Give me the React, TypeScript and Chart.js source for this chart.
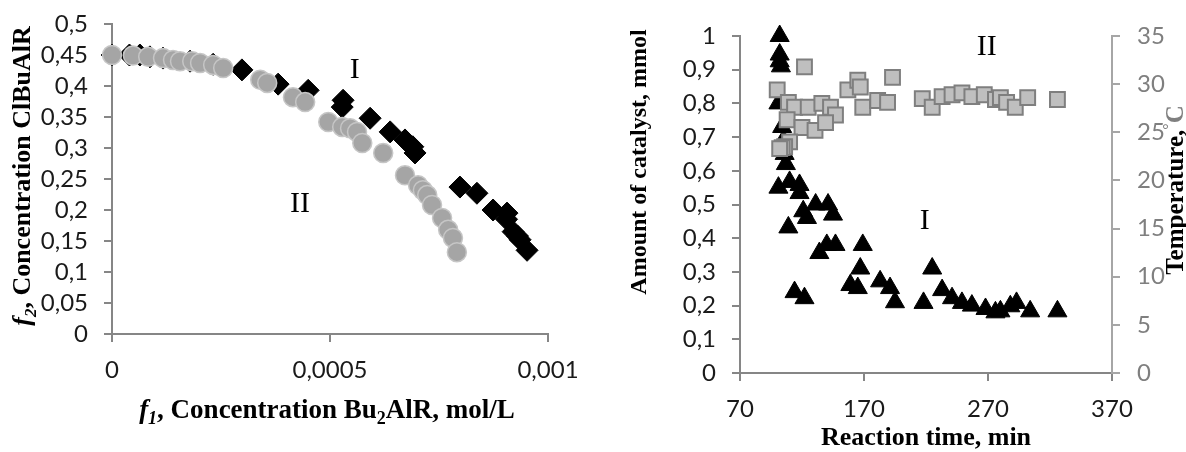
import { useEffect, useRef } from "react";
import { Chart, registerables } from "chart.js";

Chart.register(...registerables);

// ---- Left panel: f1 (Bu2AlR, mol/L) against f2 (ClBuAlR) ----
const f1SeriesI = [
  0, 0.00004, 0.000064, 0.000087, 0.000117, 0.000179, 0.000232, 0.000298, 0.000381, 0.00045,
  0.00053, 0.000528, 0.000592, 0.000638, 0.000672, 0.00069, 0.000695, 0.000798, 0.000837,
  0.000874, 0.000906, 0.000905, 0.00092, 0.00093, 0.000936, 0.000952,
];
const f2SeriesI = [
  0.45, 0.45, 0.45, 0.447, 0.445, 0.44, 0.435, 0.426, 0.403, 0.393,
  0.377, 0.366, 0.348, 0.326, 0.313, 0.302, 0.292, 0.237, 0.227,
  0.2, 0.195, 0.185, 0.165, 0.158, 0.152, 0.135,
];
const f1SeriesII = [
  0, 0.000048, 0.000083, 0.000117, 0.00014, 0.000156, 0.000184, 0.000202, 0.000232, 0.000255,
  0.00034, 0.000356, 0.000415, 0.000443, 0.000496, 0.000528, 0.000546, 0.000562, 0.000574,
  0.000622, 0.000672, 0.000702, 0.000713, 0.000723, 0.000734, 0.000757, 0.000771, 0.000782,
  0.000791,
];
const f2SeriesII = [
  0.45, 0.449, 0.447, 0.445, 0.442, 0.44, 0.44, 0.437, 0.434, 0.429,
  0.41, 0.405, 0.382, 0.374, 0.342, 0.334, 0.332, 0.326, 0.308,
  0.292, 0.256, 0.24, 0.232, 0.224, 0.208, 0.187, 0.168, 0.155,
  0.132,
];
const f1Ticks = [0, 0.0005, 0.001];

// ---- Right panel: reaction time against catalyst amount (I) and temperature (II) ----
const timeCatalyst = [
  102, 102, 102, 103, 101, 104, 105, 106, 107, 101, 110, 118, 118, 131, 121, 124, 141, 145,
  109, 134, 140, 147, 114, 122, 159, 165, 169, 167, 183, 191, 195, 218, 225, 233, 241, 249,
  257, 268, 276, 280, 288, 293, 304, 326,
];
const catalystAmount = [
  1.0, 0.945, 0.925, 0.91, 0.8, 0.73, 0.69, 0.65, 0.62, 0.55, 0.567, 0.558, 0.534, 0.5, 0.48,
  0.46, 0.5, 0.47, 0.432, 0.356, 0.38, 0.38, 0.24, 0.222, 0.261, 0.252, 0.38, 0.31, 0.272,
  0.252, 0.21, 0.208, 0.31, 0.246, 0.222, 0.208, 0.2, 0.19, 0.18, 0.183, 0.198, 0.208, 0.183,
  0.183,
];
const timeTemperature = [
  100, 122, 109, 114, 125, 136, 143, 147, 108, 120, 130.5, 139, 110, 106, 104, 102, 157, 165,
  167, 169, 181, 189, 193, 217, 225, 233, 241, 249, 257, 267, 276, 280, 285, 292, 302, 326,
];
const temperature = [
  29.4, 31.8, 28.1, 27.6, 27.6, 28.0, 27.6, 26.8, 26.3, 25.5, 25.2, 26.0, 24.0, 23.5, 23.4,
  23.3, 29.4, 30.4, 29.7, 27.6, 28.3, 28.1, 30.7, 28.5, 27.6, 28.7, 28.9, 29.1, 28.7, 28.9,
  28.4, 28.6, 28.1, 27.6, 28.6, 28.4,
];
const timeTicks = [70, 170, 270, 370];
const catalystTicks = [0, 0.1, 0.2, 0.3, 0.4, 0.5, 0.6, 0.7, 0.8, 0.9, 1];
const temperatureTicks = [0, 5, 10, 15, 20, 25, 30, 35];

const AXIS = "#868686";
const AXIS_LIGHT = "#a6a6a6";
const TICK_FONT = { family: "Lato, 'Open Sans', sans-serif", size: 24 };
const SERIF = "'Liberation Serif', 'Times New Roman', serif";

const fmtComma = (v: number) => String(+Number(v).toFixed(4)).replace(".", ",");

type Run = { t: string; italic?: boolean; shift?: "sub" | "sup"; color?: string };
type Placed = { x: number; y: number; rotate?: boolean };
type TextItem = { runs: Run[]; size: number; bold: boolean; place: (c: Chart) => Placed };

function drawRuns(ctx: CanvasRenderingContext2D, item: TextItem, p: Placed) {
  const { runs, size, bold } = item;
  const fontFor = (r: Run) =>
    `${r.italic ? "italic " : ""}${bold ? "bold " : ""}${r.shift ? Math.round(size * 0.65) : size}px ${SERIF}`;
  ctx.save();
  let total = 0;
  const widths = runs.map((r) => {
    ctx.font = fontFor(r);
    const w = ctx.measureText(r.t).width;
    total += w;
    return w;
  });
  ctx.translate(p.x, p.y);
  if (p.rotate) ctx.rotate(-Math.PI / 2);
  ctx.textBaseline = "alphabetic";
  ctx.textAlign = "left";
  let cx = -total / 2;
  runs.forEach((r, i) => {
    ctx.font = fontFor(r);
    ctx.fillStyle = r.color ?? "#000";
    const dy = r.shift === "sub" ? size * 0.22 : r.shift === "sup" ? -size * 0.36 : 0;
    ctx.fillText(r.t, cx, dy);
    cx += widths[i];
  });
  ctx.restore();
}

const textLayer = (items: TextItem[]) => ({
  id: "richText",
  afterDraw(chart: Chart) {
    items.forEach((it) => drawRuns(chart.ctx, it, it.place(chart)));
  },
});

const fixTicks = (values: number[]) => (scale: any) => {
  scale.ticks = values.map((value) => ({ value }));
};

function axisCommon(color: string) {
  return {
    grid: { drawOnChartArea: false, drawTicks: true, tickLength: 8, color, lineWidth: 2 },
    border: { display: true, color, width: 2 },
  };
}

function leftConfig(): any {
  const items: TextItem[] = [
    {
      runs: [
        { t: "f", italic: true },
        { t: "1", italic: true, shift: "sub" },
        { t: ", Concentration Bu" },
        { t: "2", shift: "sub" },
        { t: "AlR, mol/L" },
      ],
      size: 27,
      bold: true,
      place: () => ({ x: 327, y: 418 }),
    },
    {
      runs: [
        { t: "f", italic: true },
        { t: "2", italic: true, shift: "sub" },
        { t: ", Concentration ClBuAlR" },
      ],
      size: 26,
      bold: true,
      place: () => ({ x: 30, y: 176, rotate: true }),
    },
    {
      runs: [{ t: "I" }],
      size: 30,
      bold: false,
      place: (c) => ({ x: c.scales.x.getPixelForValue(0.000557), y: c.scales.y.getPixelForValue(0.413) }),
    },
    {
      runs: [{ t: "II" }],
      size: 30,
      bold: false,
      place: (c) => ({ x: c.scales.x.getPixelForValue(0.000431), y: c.scales.y.getPixelForValue(0.197) }),
    },
  ];
  return {
    type: "scatter",
    data: {
      datasets: [
        {
          label: "II",
          data: f1SeriesII.map((x, i) => ({ x, y: f2SeriesII[i] })),
          pointStyle: "circle",
          pointRadius: 9.5,
          backgroundColor: "#a5a5a5",
          borderColor: "#c6c6c6",
          borderWidth: 1.5,
          order: 0,
          clip: false,
        },
        {
          label: "I",
          data: f1SeriesI.map((x, i) => ({ x, y: f2SeriesI[i] })),
          pointStyle: "rectRot",
          pointRadius: 11,
          backgroundColor: "#000",
          borderColor: "#000",
          borderWidth: 1,
          order: 1,
          clip: false,
        },
      ],
    },
    options: {
      responsive: false,
      animation: false,
      events: [],
      layout: { padding: { top: 24, right: 42, left: 0, bottom: 0 } },
      plugins: { legend: { display: false }, tooltip: { enabled: false } },
      scales: {
        x: {
          type: "linear",
          min: 0,
          max: 0.001,
          afterBuildTicks: fixTicks(f1Ticks),
          ticks: { callback: (v: number) => fmtComma(v), font: TICK_FONT, color: "#1a1a1a", padding: 14, maxRotation: 0, autoSkip: false },
          ...axisCommon(AXIS),
          afterFit: (s: any) => {
            s.height = 118;
            s.paddingLeft = 0;
            s.paddingRight = 0;
          },
        },
        y: {
          type: "linear",
          min: 0,
          max: 0.5,
          ticks: { stepSize: 0.05, callback: (v: number) => fmtComma(v), font: TICK_FONT, color: "#1a1a1a", padding: 16, autoSkip: false },
          ...axisCommon(AXIS),
          afterFit: (s: any) => {
            s.width = 112;
            s.paddingTop = 0;
            s.paddingBottom = 0;
          },
        },
      },
    },
    plugins: [textLayer(items)],
  };
}

function rightConfig(): any {
  const items: TextItem[] = [
    {
      runs: [{ t: "Reaction time, min" }],
      size: 26,
      bold: true,
      place: (c) => ({ x: (c.chartArea.left + c.chartArea.right) / 2, y: 445 }),
    },
    {
      runs: [{ t: "Amount of catalyst, mmol" }],
      size: 24,
      bold: true,
      place: () => ({ x: 56, y: 162, rotate: true }),
    },
    {
      runs: [{ t: "Temperature," }, { t: "°", shift: "sup", color: "#7f7f7f" }, { t: "C", color: "#7f7f7f" }],
      size: 25,
      bold: true,
      place: () => ({ x: 593, y: 190, rotate: true }),
    },
    {
      runs: [{ t: "II" }],
      size: 30,
      bold: false,
      place: (c) => ({ x: c.scales.x.getPixelForValue(269), y: c.scales.y.getPixelForValue(0.944) }),
    },
    {
      runs: [{ t: "I" }],
      size: 30,
      bold: false,
      place: (c) => ({ x: c.scales.x.getPixelForValue(219), y: c.scales.y.getPixelForValue(0.427) }),
    },
  ];
  return {
    type: "scatter",
    data: {
      datasets: [
        {
          label: "II",
          data: timeTemperature.map((x, i) => ({ x, y: temperature[i] })),
          yAxisID: "y1",
          pointStyle: "rect",
          pointRadius: 10.5,
          backgroundColor: "#bfbfbf",
          borderColor: "#7f7f7f",
          borderWidth: 2,
          order: 0,
          clip: false,
        },
        {
          label: "I",
          data: timeCatalyst.map((x, i) => ({ x, y: catalystAmount[i] })),
          yAxisID: "y",
          pointStyle: "triangle",
          pointRadius: 11,
          backgroundColor: "#000",
          borderColor: "#000",
          borderWidth: 1,
          order: 1,
          clip: false,
        },
      ],
    },
    options: {
      responsive: false,
      animation: false,
      events: [],
      layout: { padding: { top: 36, right: 0, left: 0, bottom: 0 } },
      plugins: { legend: { display: false }, tooltip: { enabled: false } },
      scales: {
        x: {
          type: "linear",
          min: 70,
          max: 370,
          afterBuildTicks: fixTicks(timeTicks),
          ticks: { font: TICK_FONT, color: "#1a1a1a", padding: 14, maxRotation: 0, autoSkip: false },
          ...axisCommon(AXIS),
          afterFit: (s: any) => {
            s.height = 79;
            s.paddingLeft = 0;
            s.paddingRight = 0;
          },
        },
        y: {
          type: "linear",
          position: "left",
          min: 0,
          max: 1,
          afterBuildTicks: fixTicks(catalystTicks),
          ticks: { callback: (v: number) => fmtComma(v), font: TICK_FONT, color: "#1a1a1a", padding: 16, autoSkip: false },
          ...axisCommon(AXIS),
          afterFit: (s: any) => {
            s.width = 150;
            s.paddingTop = 0;
            s.paddingBottom = 0;
          },
        },
        y1: {
          type: "linear",
          position: "right",
          min: 0,
          max: 35,
          afterBuildTicks: fixTicks(temperatureTicks),
          ticks: { font: TICK_FONT, color: "#7f7f7f", padding: 17, autoSkip: false },
          ...axisCommon(AXIS_LIGHT),
          afterFit: (s: any) => {
            s.width = 74;
            s.paddingTop = 0;
            s.paddingBottom = 0;
          },
        },
      },
    },
    plugins: [textLayer(items)],
  };
}

export default function App() {
  const leftRef = useRef<HTMLCanvasElement | null>(null);
  const rightRef = useRef<HTMLCanvasElement | null>(null);

  useEffect(() => {
    document.body.style.margin = "0";
    const charts: Chart[] = [];
    if (leftRef.current) charts.push(new Chart(leftRef.current, leftConfig()));
    if (rightRef.current) charts.push(new Chart(rightRef.current, rightConfig()));
    return () => charts.forEach((c) => c.destroy());
  }, []);

  return (
    <div style={{ position: "relative", width: 1186, height: 452, background: "#fff" }}>
      <canvas ref={leftRef} width={590} height={452} style={{ position: "absolute", left: 0, top: 0 }} />
      <canvas ref={rightRef} width={596} height={452} style={{ position: "absolute", left: 590, top: 0 }} />
    </div>
  );
}
